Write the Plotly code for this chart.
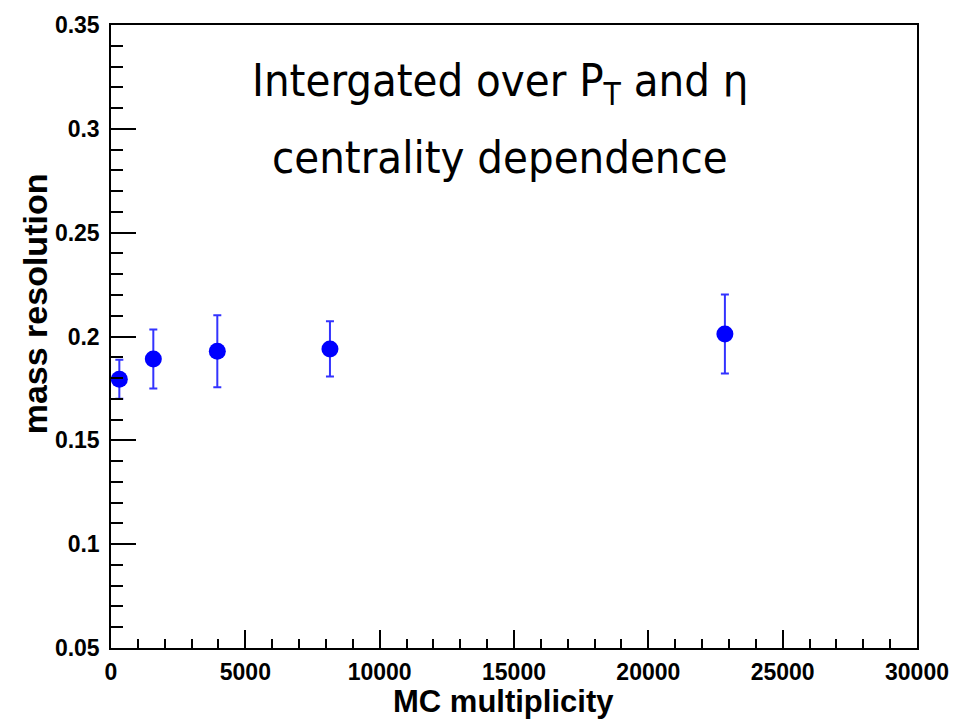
import plotly.graph_objects as go

mult = [310, 1575, 3957, 8150, 22850]
mass_res = [0.1794, 0.1892, 0.1929, 0.1940, 0.2012]
mass_err = [0.0094, 0.0142, 0.0173, 0.0133, 0.0190]

x_ticks = [0, 5000, 10000, 15000, 20000, 25000, 30000]
x_labels = ["0", "5000", "10000", "15000", "20000", "25000", "30000"]
y_ticks = [0.05, 0.1, 0.15, 0.2, 0.25, 0.3, 0.35]
y_labels = ["0.05", "0.1", "0.15", "0.2", "0.25", "0.3", "0.35"]

fig = go.Figure()
fig.add_trace(go.Scatter(
    x=mult, y=mass_res, mode="markers",
    marker=dict(color="#0000ff", size=17, symbol="circle"),
    error_y=dict(type="data", array=mass_err, visible=True,
                 color="#3333ff", thickness=2, width=4),
    showlegend=False,
))

tickfont = dict(family="Liberation Sans, Arial, sans-serif", size=23, color="black", weight="bold")
fig.update_layout(
    width=975, height=719,
    margin=dict(l=111, r=58, t=19, b=71),
    plot_bgcolor="white", paper_bgcolor="white",
    xaxis=dict(range=[0, 30000], tickvals=x_ticks, ticktext=x_labels,
               ticks="inside", ticklen=18, tickwidth=1.5, tickcolor="black",
               minor=dict(ticks="inside", ticklen=9, dtick=1000, tickcolor="black", tickwidth=1.5),
               showline=True, linecolor="black", linewidth=1.5, mirror=True,
               showgrid=False, zeroline=False, tickfont=tickfont,
               ticklabelstandoff=3),
    yaxis=dict(range=[0.05, 0.35], tickvals=y_ticks, ticktext=y_labels,
               ticks="inside", ticklen=25, tickwidth=1.5, tickcolor="black",
               minor=dict(ticks="inside", ticklen=12, dtick=0.01, tickcolor="black", tickwidth=1.5),
               showline=True, linecolor="black", linewidth=1.5, mirror=True,
               showgrid=False, zeroline=False, tickfont=tickfont,
               ticklabelstandoff=5),
    font=dict(family="Liberation Sans, Arial, sans-serif"),
)

fig.add_annotation(text="<b>MC multiplicity</b>", xref="paper", yref="paper",
                   x=(503 - 111) / 806, y=-(702 - 648) / 629, showarrow=False,
                   font=dict(size=31, color="black"), xanchor="center", yanchor="middle")
fig.add_annotation(text="<b>mass resolution</b>", xref="paper", yref="paper",
                   x=-(111 - 35) / 806, y=(648 - 301) / 629, showarrow=False, textangle=-90,
                   font=dict(size=34, color="black"), xanchor="center", yanchor="middle")
fig.add_annotation(text="Intergated over P<sub>T</sub> and η", xref="paper", yref="paper",
                   x=(500 - 111) / 806, y=(648 - 78) / 629, showarrow=False,
                   font=dict(family="DejaVu Sans Condensed, Liberation Sans Narrow, Liberation Sans, sans-serif",
                             size=45, color="black"),
                   xanchor="center", yanchor="middle")
fig.add_annotation(text="centrality dependence", xref="paper", yref="paper",
                   x=(500 - 111) / 806, y=(648 - 153) / 629, showarrow=False,
                   font=dict(family="DejaVu Sans Condensed, Liberation Sans Narrow, Liberation Sans, sans-serif",
                             size=45, color="black"),
                   xanchor="center", yanchor="middle")

fig.write_html("out.html")
